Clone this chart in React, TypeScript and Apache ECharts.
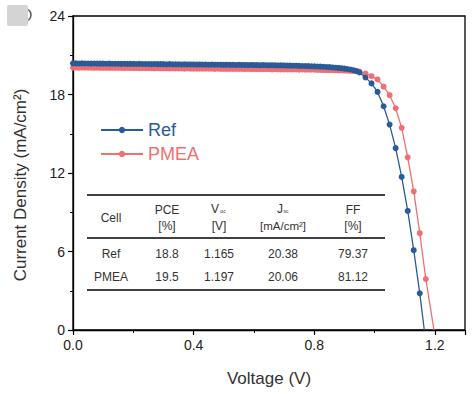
import React, { useEffect, useRef } from "react";
import * as echarts from "echarts";

const flatVoltage = [
  0.0, 0.01, 0.02, 0.03, 0.04, 0.05, 0.06, 0.07, 0.08, 0.09,
  0.1, 0.11, 0.12, 0.13, 0.14, 0.15, 0.16, 0.17, 0.18, 0.19,
  0.2, 0.21, 0.22, 0.23, 0.24, 0.25, 0.26, 0.27, 0.28, 0.29,
  0.3, 0.31, 0.32, 0.33, 0.34, 0.35, 0.36, 0.37, 0.38, 0.39,
  0.4, 0.41, 0.42, 0.43, 0.44, 0.45, 0.46, 0.47, 0.48, 0.49,
  0.5, 0.51, 0.52, 0.53, 0.54, 0.55, 0.56, 0.57, 0.58, 0.59,
  0.6, 0.61, 0.62, 0.63, 0.64, 0.65, 0.66, 0.67, 0.68, 0.69,
  0.7, 0.71, 0.72, 0.73, 0.74, 0.75, 0.76, 0.77, 0.78, 0.79,
  0.8, 0.81, 0.82, 0.83, 0.84, 0.85, 0.86, 0.87, 0.88, 0.89,
  0.9, 0.91, 0.92, 0.93, 0.94, 0.95,
];

const refFlatCurrent = [
  20.38, 20.38, 20.37, 20.38, 20.37, 20.37, 20.36, 20.37, 20.36, 20.36,
  20.36, 20.35, 20.36, 20.35, 20.35, 20.35, 20.34, 20.35, 20.34, 20.34,
  20.34, 20.33, 20.34, 20.33, 20.33, 20.33, 20.32, 20.33, 20.32, 20.32,
  20.32, 20.31, 20.32, 20.31, 20.31, 20.31, 20.3, 20.31, 20.3, 20.3,
  20.3, 20.29, 20.3, 20.29, 20.29, 20.28, 20.29, 20.28, 20.28, 20.28,
  20.27, 20.28, 20.27, 20.27, 20.26, 20.27, 20.26, 20.26, 20.25, 20.26,
  20.25, 20.25, 20.24, 20.25, 20.24, 20.23, 20.24, 20.23, 20.22, 20.23,
  20.22, 20.21, 20.21, 20.2, 20.2, 20.19, 20.18, 20.18, 20.17, 20.16,
  20.15, 20.14, 20.13, 20.12, 20.1, 20.09, 20.07, 20.05, 20.03, 20.01,
  19.98, 19.95, 19.91, 19.86, 19.79, 19.68,
];

const pmeaFlatCurrent = [
  20.06, 20.06, 20.05, 20.06, 20.05, 20.05, 20.05, 20.04, 20.05, 20.04,
  20.04, 20.04, 20.03, 20.04, 20.03, 20.03, 20.03, 20.02, 20.03, 20.02,
  20.02, 20.02, 20.01, 20.02, 20.01, 20.01, 20.01, 20.0, 20.01, 20.0,
  20.0, 20.0, 19.99, 20.0, 19.99, 19.99, 19.99, 19.98, 19.99, 19.98,
  19.98, 19.98, 19.97, 19.98, 19.97, 19.97, 19.97, 19.96, 19.97, 19.96,
  19.96, 19.96, 19.95, 19.96, 19.95, 19.95, 19.95, 19.94, 19.95, 19.94,
  19.94, 19.94, 19.93, 19.94, 19.93, 19.93, 19.92, 19.93, 19.92, 19.92,
  19.92, 19.91, 19.92, 19.91, 19.91, 19.9, 19.91, 19.9, 19.9, 19.89,
  19.89, 19.88, 19.88, 19.87, 19.87, 19.86, 19.86, 19.85, 19.84, 19.84,
  19.83, 19.82, 19.81, 19.8, 19.78, 19.75,
];

const refTailVoltage = [0.97, 0.99, 1.01, 1.03, 1.05, 1.07, 1.09, 1.11, 1.13, 1.15, 1.165];
const refTailCurrent = [19.3, 18.85, 18.2, 17.1, 15.7, 13.9, 11.7, 9.1, 6.1, 2.8, 0];

const pmeaTailVoltage = [0.97, 0.99, 1.01, 1.03, 1.05, 1.07, 1.09, 1.11, 1.13, 1.15, 1.17, 1.197];
const pmeaTailCurrent = [19.6, 19.4, 19.15, 18.6, 17.95, 16.95, 15.45, 13.2, 10.6, 7.4, 3.9, 0];

const seriesNames = ["Ref", "PMEA"];
const tableHeader = ["Cell", "PCE", "V", "J", "FF"];
const tableUnits = ["", "[%]", "[V]", "[mA/cm²]", "[%]"];
const tableRows = [
  ["Ref", "18.8", "1.165", "20.38", "79.37"],
  ["PMEA", "19.5", "1.197", "20.06", "81.12"],
];

const BLUE = "#2a5b98";
const PINK = "#ef6f72";
const FONT = "Liberation Sans, Arial, sans-serif";

function buildSeries(flatV: number[], flatJ: number[], tailV: number[], tailJ: number[]) {
  const pts: any[] = flatV.map((v, i) => [v, flatJ[i]]);
  tailV.forEach((v, i) => {
    if (i === tailV.length - 1) pts.push({ value: [v, tailJ[i]], symbol: "none" });
    else pts.push([v, tailJ[i]]);
  });
  return pts;
}

export default function App() {
  const ref = useRef<HTMLDivElement>(null);
  useEffect(() => {
    if (!ref.current) return;
    const chart = echarts.init(ref.current, null, { renderer: "svg" });
    const colX = [111, 167, 219, 283, 353];
    const headY = 210;
    const unitY = 226;
    const rowY = [254, 277];
    const textStyle = (text: string, x: number, y: number, size = 12) => ({
      type: "text",
      style: {
        text,
        x,
        y,
        fill: "#333",
        font: `${size}px ${FONT}`,
        textAlign: "center",
        textVerticalAlign: "middle",
      },
    });
    const graphics: any[] = [
      { type: "rect", shape: { x: 7, y: 5, width: 21, height: 21, r: 2 }, style: { fill: "#d4d4d4" } },
      { type: "arc", shape: { cx: 24, cy: 15, r: 7, startAngle: -0.9, endAngle: 0.9 }, style: { stroke: "#555", lineWidth: 1.5, fill: null } },
      { type: "line", shape: { x1: 87, y1: 195, x2: 385, y2: 195 }, style: { stroke: "#000", lineWidth: 1.5 } },
      { type: "line", shape: { x1: 87, y1: 238, x2: 385, y2: 238 }, style: { stroke: "#000", lineWidth: 1.5 } },
      { type: "line", shape: { x1: 87, y1: 290, x2: 385, y2: 290 }, style: { stroke: "#000", lineWidth: 1.5 } },
      textStyle(tableHeader[0], colX[0], 218),
      textStyle(tableHeader[1], colX[1], headY),
      textStyle(tableHeader[2], colX[2] - 4, headY - 1),
      textStyle("oc", colX[2] + 4, headY + 1, 5),
      textStyle(tableHeader[3], colX[3] - 3, headY - 1),
      textStyle("sc", colX[3] + 3, headY + 1, 5),
      textStyle(tableHeader[4], colX[4], headY),
    ];
    tableUnits.forEach((u, i) => {
      if (u) graphics.push(textStyle(u, colX[i], unitY, i === 3 ? 11.5 : 12));
    });
    tableRows.forEach((row, r) => {
      row.forEach((cell, c) => graphics.push(textStyle(cell, colX[c], rowY[r])));
    });

    const option: any = {
      animation: false,
      grid: {
        left: 73,
        right: 11,
        top: 16,
        bottom: 64,
        show: true,
        borderColor: "#000",
        borderWidth: 1.3,
      },
      legend: {
        orient: "vertical",
        left: 95,
        top: 115,
        itemWidth: 42,
        itemHeight: 8,
        itemGap: 4,
        data: [
          { name: seriesNames[0], textStyle: { color: BLUE } },
          { name: seriesNames[1], textStyle: { color: PINK } },
        ],
        textStyle: { fontSize: 18, fontFamily: FONT, lineHeight: 20 },
      },
      xAxis: {
        type: "value",
        min: 0,
        max: 1.3,
        interval: 0.4,
        name: "Voltage (V)",
        nameLocation: "middle",
        nameGap: 40,
        nameTextStyle: { fontSize: 17, color: "#333", fontFamily: FONT },
        axisLine: { show: true, onZero: false, lineStyle: { color: "#000", width: 1.3 } },
        axisTick: { show: true, inside: false, length: 5, lineStyle: { color: "#000", width: 1.2 } },
        minorTick: { show: true, splitNumber: 2, length: 3, lineStyle: { color: "#000", width: 1 } },
        splitLine: { show: false },
        axisLabel: {
          showMaxLabel: false,
          formatter: (v: number) => v.toFixed(1),
          color: "#222",
          fontSize: 14,
          fontFamily: FONT,
          margin: 8,
        },
      },
      yAxis: {
        type: "value",
        min: 0,
        max: 24,
        interval: 6,
        name: "Current Density (mA/cm²)",
        nameLocation: "middle",
        nameGap: 44,
        nameTextStyle: { fontSize: 17, color: "#333", fontFamily: FONT, padding: [0, 24, 0, 0] },
        axisLine: { show: true, onZero: false, lineStyle: { color: "#000", width: 1.3 } },
        axisTick: { show: true, inside: false, length: 5, lineStyle: { color: "#000", width: 1.2 } },
        minorTick: { show: true, splitNumber: 2, length: 3, lineStyle: { color: "#000", width: 1 } },
        splitLine: { show: false },
        axisLabel: { color: "#222", fontSize: 14, fontFamily: FONT, margin: 8 },
      },
      series: [
        {
          name: seriesNames[0],
          type: "line",
          data: buildSeries(flatVoltage, refFlatCurrent, refTailVoltage, refTailCurrent),
          symbol: "circle",
          symbolSize: 6,
          showAllSymbol: true,
          color: BLUE,
          lineStyle: { color: BLUE, width: 1.3 },
          itemStyle: { color: BLUE },
          z: 3,
        },
        {
          name: seriesNames[1],
          type: "line",
          data: buildSeries(flatVoltage, pmeaFlatCurrent, pmeaTailVoltage, pmeaTailCurrent),
          symbol: "circle",
          symbolSize: 6,
          showAllSymbol: true,
          color: PINK,
          lineStyle: { color: PINK, width: 1.3 },
          itemStyle: { color: PINK },
          z: 2,
        },
      ],
      graphic: graphics,
    };
    chart.setOption(option);
    return () => chart.dispose();
  }, []);
  return <div ref={ref} style={{ width: 476, height: 394, position: "absolute", left: 0, top: 0 }} />;
}
